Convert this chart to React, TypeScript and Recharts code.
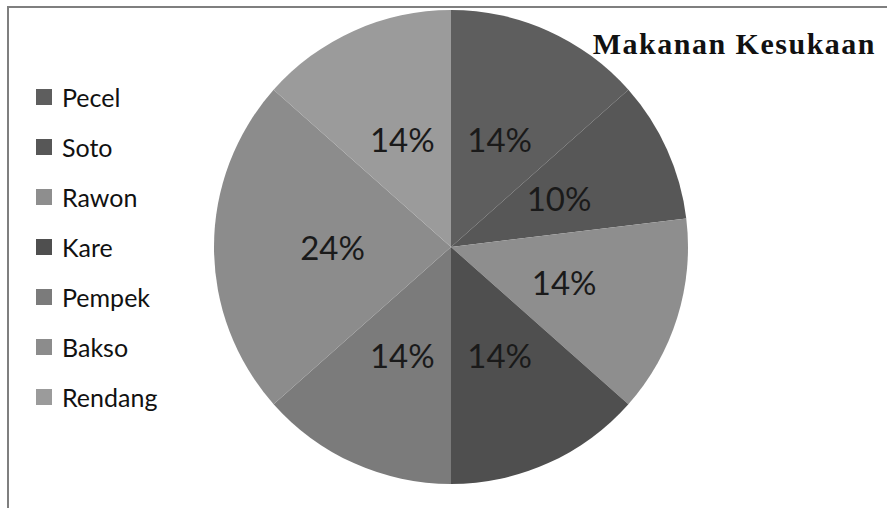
import React from 'react';
import { PieChart, Pie, Cell } from 'recharts';

const foods = ['Pecel', 'Soto', 'Rawon', 'Kare', 'Pempek', 'Bakso', 'Rendang'];
const shares = [14, 10, 14, 14, 14, 24, 14];
const shades = ['#5e5e5e', '#575757', '#8e8e8e', '#4f4f4f', '#7b7b7b', '#8c8c8c', '#9b9b9b'];

const chartData = foods.map((name, i) => ({ name, value: shares[i] }));

const RADIAN = Math.PI / 180;

const SliceLabel = ({ cx, cy, midAngle, outerRadius, value }: any) => {
  const r = outerRadius * 0.5;
  const x = cx + r * Math.cos(-midAngle * RADIAN);
  const y = cy + r * Math.sin(-midAngle * RADIAN);
  return (
    <text
      x={x}
      y={y}
      fill="#1a1a1a"
      fontSize={33}
      fontFamily="Lato, sans-serif"
      textAnchor="middle"
      dominantBaseline="central"
    >
      {`${value}%`}
    </text>
  );
};

// legend drawn by hand so the order stays as in the data
const LegendList = () => (
  <div style={{ position: 'absolute', left: 36, top: 72, fontFamily: 'Lato, sans-serif', fontSize: 25, color: '#111' }}>
    {chartData.map((d, i) => (
      <div key={d.name} style={{ display: 'flex', alignItems: 'center', height: 50 }}>
        <span
          style={{
            display: 'inline-block',
            width: 16,
            height: 16,
            background: shades[i],
            marginRight: 10,
          }}
        />
        <span>{d.name}</span>
      </div>
    ))}
  </div>
);

export default function App() {
  return (
    <div style={{ position: 'absolute', left: 0, top: 0, width: 887, height: 508, background: '#fff', overflow: 'hidden' }}>
      <div
        style={{
          position: 'absolute',
          left: 7,
          top: 6,
          width: 900,
          height: 520,
          borderTop: '2px solid #7f7f7f',
          borderLeft: '2px solid #7f7f7f',
        }}
      />
      <div style={{ position: 'absolute', left: 0, top: 0 }}>
        <PieChart width={887} height={508} margin={{ top: 0, right: 0, bottom: 0, left: 0 }}>
          <Pie
            data={chartData}
            dataKey="value"
            nameKey="name"
            cx={451}
            cy={247}
            outerRadius={237}
            startAngle={90}
            endAngle={-270}
            stroke="none"
            label={SliceLabel}
            labelLine={false}
            isAnimationActive={false}
          >
            {chartData.map((d, i) => (
              <Cell key={d.name} fill={shades[i]} />
            ))}
          </Pie>
        </PieChart>
      </div>
      <LegendList />
      <div
        style={{
          position: 'absolute',
          right: 11,
          top: 27,
          fontFamily: '"Liberation Serif", "Times New Roman", serif',
          fontWeight: 'bold',
          fontSize: 30,
          letterSpacing: 1.5,
          lineHeight: '34px',
          color: '#111',
        }}
      >
        Makanan Kesukaan
      </div>
    </div>
  );
}
